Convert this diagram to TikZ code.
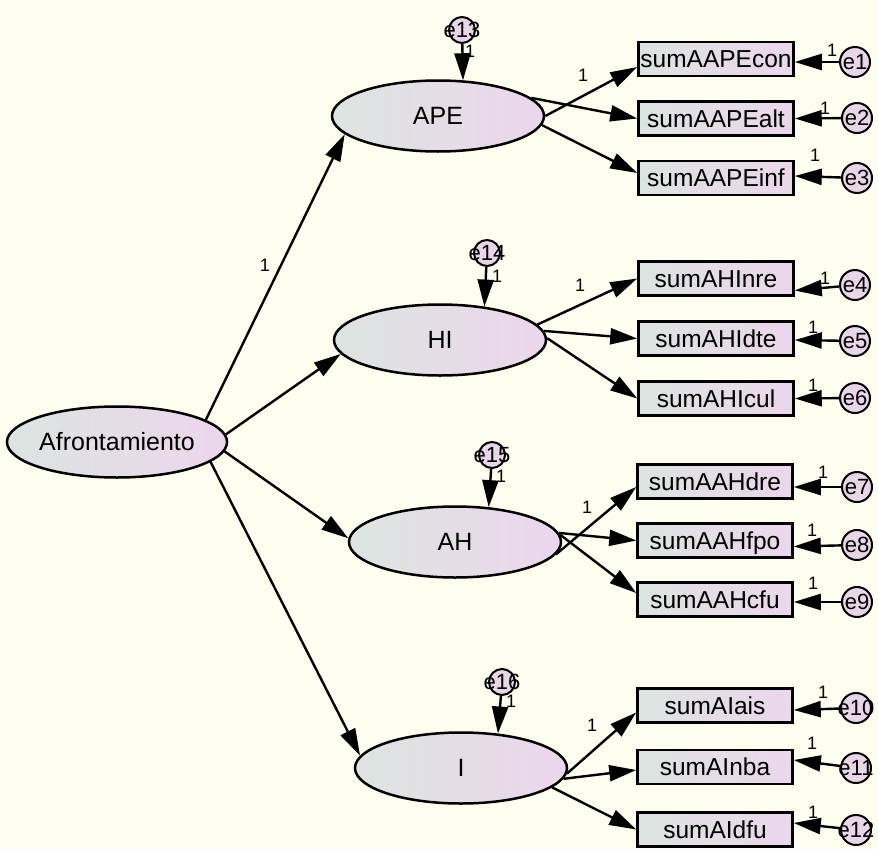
\documentclass[tikz,border=0pt]{standalone}
\usepackage{fontspec}
\setmainfont{Liberation Sans}
\usetikzlibrary{arrows.meta,shapes.geometric}
\definecolor{bg}{RGB}{254,254,240}
\definecolor{fl}{RGB}{220,228,224}
\definecolor{fr}{RGB}{236,214,236}
\definecolor{ef}{RGB}{232,214,232}
\begin{document}
\begin{tikzpicture}[x=1pt,y=-1pt,
  lat/.style={ellipse,draw,line width=2.5pt,left color=fl,right color=fr,minimum width=212pt,minimum height=71pt,inner sep=0pt,font=\fontsize{25}{28}\selectfont},
  obs/.style={rectangle,draw,line width=2.5pt,left color=fl,right color=fr,minimum width=155pt,minimum height=34pt,inner sep=0pt,text height=17pt,text depth=0pt,font=\fontsize{24.5}{28}\selectfont},
  err/.style={circle,draw,line width=2pt,fill=ef,minimum size=30pt,inner sep=0pt,label={[font=\fontsize{22}{24}\selectfont,inner sep=0pt]center:#1}},
  serr/.style={err=#1,minimum size=26pt},
  one/.style={inner sep=0pt,font=\fontsize{18}{20}\selectfont},
  arr/.style={line width=2.4pt,-{Triangle[length=27pt,width=16pt]}}
]
\fill[bg] (0,0) rectangle (878,849);
\useasboundingbox (0,0) rectangle (878,849);

% latent variables
\node[lat] (afr) at (117,442) {Afrontamiento};
\node[lat] (ape) at (438,116) {APE};
\node[lat] (hi) at (440,340) {HI};
\node[lat] (ah) at (455,542) {AH};
\node[lat] (i) at (461,768) {I};

% observed variables
\node[obs] (b1) at (716,59) {sumAAPEcon};
\node[obs] (b2) at (716,118.5) {sumAAPEalt};
\node[obs] (b3) at (716,178) {sumAAPEinf};
\node[obs] (b4) at (716,278.5) {sumAHInre};
\node[obs] (b5) at (716,338.5) {sumAHIdte};
\node[obs] (b6) at (716,398.5) {sumAHIcul};
\node[obs] (b7) at (715,481.5) {sumAAHdre};
\node[obs] (b8) at (715,540.5) {sumAAHfpo};
\node[obs] (b9) at (715,599.5) {sumAAHcfu};
\node[obs] (b10) at (715,705.5) {sumAIais};
\node[obs] (b11) at (715,767) {sumAInba};
\node[obs] (b12) at (715,829.5) {sumAIdfu};

% error terms
\node[serr=e13] (e13) at (462,30) {};
\node[serr=e14] (e14) at (487,253) {};
\node[serr=e15] (e15) at (492,455) {};
\node[serr=e16] (e16) at (502,682) {};
\node[err=e1] (e1) at (855,62) {};
\node[err=e2] (e2) at (857,118) {};
\node[err=e3] (e3) at (857,178) {};
\node[err=e4] (e4) at (855,285) {};
\node[err=e5] (e5) at (855,341) {};
\node[err=e6] (e6) at (855,398) {};
\node[err=e7] (e7) at (857,487) {};
\node[err=e8] (e8) at (857,545) {};
\node[err=e9] (e9) at (857,602) {};
\node[err=e10] (e10) at (856,708) {};
\node[err=e11] (e11) at (856,768) {};
\node[err=e12] (e12) at (856,830) {};

% structural paths
\draw[arr] (afr.14) -- (ape.191);
\draw[arr] (afr.4) -- (hi.188);
\draw[arr] (afr.-5) -- (ah.178);
\draw[arr] (afr.-12) -- (i.173);

% loadings
\draw[arr] (ape.0) -- ([yshift=-8pt]b1.west);
\draw[arr] (ape.11) -- (b2.west);
\draw[arr] (ape.-5) -- ([yshift=5pt]b3.west);
\draw[arr] (hi.9) -- (b4.west);
\draw[arr] (hi.5) -- (b5.west);
\draw[arr] (hi.1) -- (b6.west);
\draw[arr] (ah.-7) -- ([yshift=-5.5pt]b7.west);
\draw[arr] (ah.5) -- (b8.west);
\draw[arr] (ah.4) -- ([yshift=6.5pt]b9.west);
\draw[arr] (i.-3) -- ([yshift=-7pt]b10.west);
\draw[arr] (i.-6) -- ([yshift=-3pt]b11.west);
\draw[arr] (i.-12) -- (b12.west);

% disturbances
\draw[arr] (e13) -- (ape.55);
\draw[arr] (e14) -- (hi.37);
\draw[arr] (e15) -- (ah.46);
\draw[arr] (e16) -- (i.43);

% measurement errors
\draw[arr] (e1) -- ([yshift=-3pt]b1.east);
\draw[arr] (e2) -- (b2.east);
\draw[arr] (e3) -- ([yshift=2pt]b3.east);
\draw[arr] (e4) -- ([yshift=-12pt]b4.east);
\draw[arr] (e5) -- ([yshift=-1.5pt]b5.east);
\draw[arr] (e6) -- (b6.east);
\draw[arr] (e7) -- ([yshift=-5.5pt]b7.east);
\draw[arr] (e8) -- ([yshift=-6pt]b8.east);
\draw[arr] (e9) -- ([yshift=-2.5pt]b9.east);
\draw[arr] (e10) -- ([yshift=-4.5pt]b10.east);
\draw[arr] (e11) -- ([yshift=7pt]b11.east);
\draw[arr] (e12) -- ([yshift=6.5pt]b12.east);

% fixed parameter labels
\node[one] (w0) at (265,265) {1};
\node[one] (w1) at (583,75) {1};
\node[one] (w2) at (580,285) {1};
\node[one] (w3) at (587,507) {1};
\node[one] (w4) at (592,725) {1};
\node[one] (d1) at (470,51) {1};
\node[one] (d2) at (497,276) {1};
\node[one] (d3) at (501,476) {1};
\node[one] (d4) at (511,701) {1};
\node[one] (m1) at (832,50) {1};
\node[one] (m2) at (825,108) {1};
\node[one] (m3) at (815,155) {1};
\node[one] (m4) at (825,278) {1};
\node[one] (m5) at (813,327) {1};
\node[one] (m6) at (813,385) {1};
\node[one] (m7) at (823,472) {1};
\node[one] (m8) at (812,530) {1};
\node[one] (m9) at (813,583) {1};
\node[one] (m10) at (823,692) {1};
\node[one] (m11) at (812,743) {1};
\node[one] (m12) at (813,812) {1};
\end{tikzpicture}
\end{document}
